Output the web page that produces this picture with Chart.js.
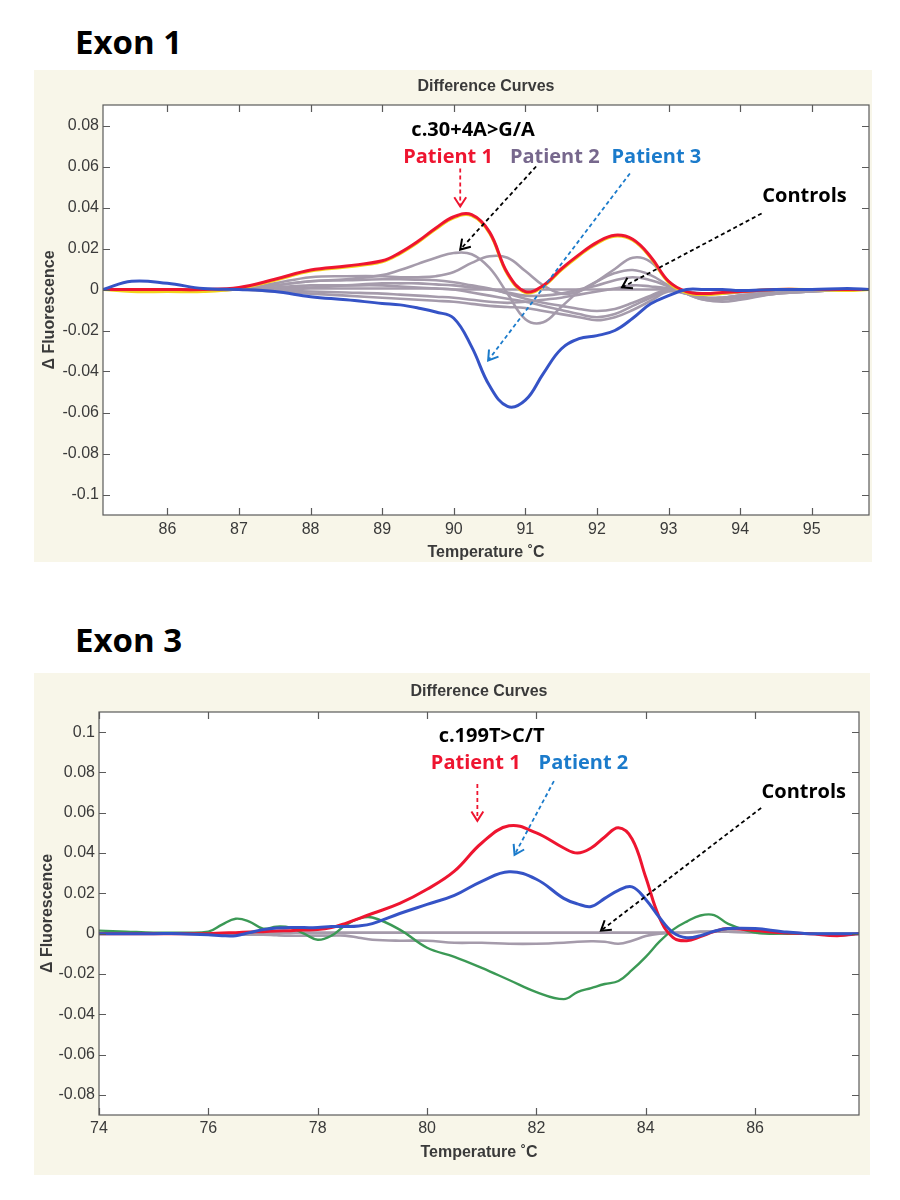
<!DOCTYPE html>
<html><head><meta charset="utf-8">
<script src="https://cdn.jsdelivr.net/npm/chart.js@4.4.1/dist/chart.umd.min.js"></script>
<style>
html,body{margin:0;padding:0;background:#fff;width:900px;height:1200px;overflow:hidden;position:relative}
.hdr{position:absolute;left:75px;font-family:"Open Sans",sans-serif;font-weight:700;font-size:33px;line-height:33px;color:#000;white-space:nowrap}
.panel{position:absolute;background:#f8f6e9}
canvas{display:block;position:absolute}
</style></head>
<body>
<div class="hdr" style="top:25px">Exon 1</div>
<div class="hdr" style="top:623px">Exon 3</div>
<div class="panel" style="left:34px;top:70px;width:838px;height:492px"><canvas id="c1" width="838" height="492"></canvas></div>
<div class="panel" style="left:34px;top:673px;width:836px;height:502px"><canvas id="c2" width="836" height="502"></canvas></div>
<script>
// ---------- Exon 1 data ----------
const exon1Temps = [85.1, 85.5, 86, 86.5, 87, 87.5, 88, 88.5, 89, 89.25, 89.5, 89.75, 90, 90.25, 90.5, 90.75, 91, 91.25, 91.5, 91.75, 92, 92.25, 92.5, 92.75, 93, 93.25, 93.5, 93.75, 94, 94.5, 95, 95.5, 95.8];
const exon1Patient1 = [0, 0, 0, 0, 0.001, 0.005, 0.0095, 0.0115, 0.014, 0.018, 0.0235, 0.030, 0.0355, 0.0365, 0.028, 0.008, -0.001, 0.002, 0.010, 0.017, 0.023, 0.0265, 0.0245, 0.016, 0.004, -0.001, -0.002, -0.0015, -0.001, 0, 0, 0, 0];
const exon1Patient1Rep = [0, -0.001, -0.001, -0.001, 0.0005, 0.0045, 0.009, 0.011, 0.0135, 0.0175, 0.023, 0.0295, 0.035, 0.036, 0.0275, 0.0075, -0.0015, 0.0015, 0.0095, 0.0165, 0.0225, 0.026, 0.024, 0.0155, 0.0035, -0.0015, -0.0025, -0.002, -0.001, 0, 0, -0.0005, 0];
const exon1Patient3 = [0, 0.004, 0.003, 0.0005, 0, -0.001, -0.0035, -0.005, -0.0068, -0.0075, -0.009, -0.011, -0.014, -0.028, -0.047, -0.057, -0.054, -0.041, -0.029, -0.024, -0.0225, -0.020, -0.014, -0.007, -0.003, 0, 0, 0, -0.0005, 0, 0, 0.0005, 0];
const exon1Patient2 = [0, 0, 0, 0, 0, 0.002, 0.004, 0.005, 0.007, 0.0095, 0.0125, 0.0155, 0.0178, 0.0172, 0.0105, -0.002, -0.0145, -0.016, -0.0085, -0.001, 0.004, 0.008, 0.0095, 0.007, 0.002, -0.002, -0.005, -0.005, -0.004, -0.002, -0.001, 0, 0];
const exon1Control1 = [0, 0, 0, 0, 0, 0.003, 0.006, 0.0065, 0.0065, 0.006, 0.006, 0.0065, 0.0085, 0.013, 0.0162, 0.0155, 0.009, 0.002, -0.002, -0.001, 0.004, 0.010, 0.0155, 0.0135, 0.004, -0.002, -0.005, -0.006, -0.005, -0.002, -0.001, 0, 0];
const exon1Control2 = [0, 0, 0, 0, 0, 0.002, 0.004, 0.0045, 0.005, 0.005, 0.0048, 0.0045, 0.0035, 0.002, 0.0005, -0.002, -0.0045, -0.0065, -0.008, -0.0095, -0.0105, -0.0095, -0.0065, -0.003, 0, -0.002, -0.004, -0.0045, -0.004, -0.002, -0.001, 0, 0];
const exon1Control3 = [0, 0, 0, 0, 0, 0.001, 0.002, 0.002, 0.002, 0.0015, 0.001, 0.0005, 0, -0.0015, -0.003, -0.0045, -0.006, -0.008, -0.010, -0.012, -0.0135, -0.012, -0.008, -0.004, -0.0005, -0.002, -0.004, -0.004, -0.003, -0.0015, -0.0005, 0, 0];
const exon1Control4 = [0, 0, 0, 0, 0, -0.001, -0.002, -0.003, -0.004, -0.0045, -0.005, -0.0055, -0.006, -0.007, -0.008, -0.0085, -0.009, -0.0105, -0.012, -0.0135, -0.015, -0.0135, -0.010, -0.0055, -0.001, -0.002, -0.004, -0.0045, -0.0035, -0.0015, -0.0005, 0, 0];
const exon1Control5 = [0, 0, 0, 0, 0, 0, 0.0005, 0.0005, 0.0005, 0.0005, 0.0005, 0.0005, 0, 0, 0, 0, 0, 0, 0, 0, 0, 0, 0, 0, 0, -0.001, -0.002, -0.002, -0.0015, -0.0005, 0, 0, 0];
const exon1Control6 = [0, 0, 0, 0, 0, 0.0005, 0.001, 0.002, 0.003, 0.003, 0.003, 0.0025, 0.002, 0.001, 0, -0.0015, -0.003, -0.003, -0.002, 0, 0.002, 0.0045, 0.006, 0.0045, 0.0015, -0.002, -0.004, -0.004, -0.003, -0.0015, -0.0005, 0, 0];
const exon1Control7 = [0, 0, 0, 0, 0, -0.0005, -0.001, -0.0015, -0.002, -0.0025, -0.003, -0.0035, -0.004, -0.005, -0.006, -0.0065, -0.006, -0.005, -0.004, -0.0025, -0.001, 0.0005, 0.002, 0.0015, 0.0005, -0.002, -0.004, -0.004, -0.003, -0.001, 0, 0, 0];
const exon1XTicks = [86, 87, 88, 89, 90, 91, 92, 93, 94, 95];
const exon1YTicks = [-0.1, -0.08, -0.06, -0.04, -0.02, 0, 0.02, 0.04, 0.06, 0.08];

// ---------- Exon 3 data ----------
const exon3Temps = [74, 74.5, 75, 75.5, 76, 76.25, 76.5, 76.75, 77, 77.25, 77.5, 77.75, 78, 78.25, 78.5, 78.75, 79, 79.5, 80, 80.5, 81, 81.5, 82, 82.5, 82.75, 83, 83.25, 83.5, 83.75, 84, 84.25, 84.5, 84.75, 85, 85.25, 85.5, 86, 86.5, 87, 87.5, 87.9];
const exon3Patient1 = [0, 0, 0, 0, 0, 0.0003, 0.0005, 0.0008, 0.001, 0.0013, 0.0015, 0.0018, 0.002, 0.003, 0.005, 0.0075, 0.010, 0.015, 0.022, 0.031, 0.045, 0.0535, 0.050, 0.0425, 0.040, 0.0425, 0.048, 0.0525, 0.047, 0.028, 0.008, -0.002, -0.0035, -0.0015, 0.001, 0.0025, 0.0015, 0.0005, 0, -0.001, 0];
const exon3Patient2 = [0, 0, 0, 0, -0.0005, -0.001, -0.001, 0.0005, 0.002, 0.0028, 0.003, 0.003, 0.003, 0.0035, 0.0035, 0.0038, 0.005, 0.010, 0.0145, 0.019, 0.026, 0.0307, 0.027, 0.0175, 0.0148, 0.0135, 0.0175, 0.0215, 0.0232, 0.017, 0.008, 0.0005, -0.002, -0.001, 0.0012, 0.0025, 0.0025, 0.001, 0, 0, 0];
const exon3Green = [0.0015, 0.001, 0.0005, 0.0005, 0.001, 0.0045, 0.0074, 0.006, 0.0025, 0.0035, 0.003, 0, -0.003, -0.001, 0.004, 0.0075, 0.008, 0.002, -0.007, -0.0115, -0.017, -0.023, -0.029, -0.0325, -0.029, -0.027, -0.025, -0.0235, -0.018, -0.0115, -0.004, 0.002, 0.006, 0.009, 0.0092, 0.005, 0.0005, 0, 0, -0.001, 0];
const exon3Control1 = [0, 0, 0, 0, 0, 0, 0, 0.0003, 0.0005, 0.0005, 0.0005, 0.0005, 0.0005, 0.0005, 0.0005, 0.0005, 0.0005, 0.0005, 0.0005, 0.0005, 0.0005, 0.0005, 0.0005, 0.0005, 0.0005, 0.0005, 0.0005, 0.0005, 0.0005, 0.0005, 0.0005, 0.0005, 0.0005, 0.0008, 0.001, 0.001, 0.0005, 0, 0, 0, 0];
const exon3Control2 = [0, 0, 0, 0, 0, 0, -0.0005, -0.0005, -0.0005, -0.0008, -0.001, -0.001, -0.001, -0.001, -0.001, -0.002, -0.003, -0.0035, -0.0035, -0.0045, -0.0045, -0.005, -0.005, -0.0045, -0.004, -0.0038, -0.004, -0.005, -0.0035, -0.0012, 0, 0.0003, 0.0005, 0.001, 0.001, 0.001, 0.0005, 0, 0, 0, 0];
const exon3XTicks = [74, 76, 78, 80, 82, 84, 86];
const exon3YTicks = [-0.08, -0.06, -0.04, -0.02, 0, 0.02, 0.04, 0.06, 0.08, 0.1];

// ---------- styles ----------
const RED = '#ee1530', BLUE = '#3553c6', GREY = '#a59bab', YELLOW = '#f2d21a', GREEN = '#3b9955';
const LBL_BLUE = '#1b7bcb', LBL_PURPLE = '#77688d';

function pts(xs, ys) { return xs.map((x, i) => ({x: x, y: ys[i]})); }
function ds(label, xs, ys, color, w) {
  return {label: label, data: pts(xs, ys), borderColor: color, borderWidth: w,
          pointRadius: 0, fill: false, tension: 0.4, borderJoinStyle: 'round', borderCapStyle: 'round'};
}
function fmt(v) { return String(+Number(v).toFixed(2)); }

const frame = {
  id: 'frame',
  beforeDatasetsDraw(chart) {
    const a = chart.chartArea, ctx = chart.ctx;
    ctx.save(); ctx.fillStyle = '#ffffff';
    ctx.fillRect(a.left, a.top, a.right - a.left, a.bottom - a.top);
    ctx.restore();
  },
  afterDraw(chart) {
    const a = chart.chartArea, ctx = chart.ctx, xs = chart.scales.x, ys = chart.scales.y;
    ctx.save();
    ctx.strokeStyle = '#5a5a5a'; ctx.lineWidth = 1.2;
    ctx.strokeRect(a.left, a.top, a.right - a.left, a.bottom - a.top);
    ctx.beginPath();
    xs.ticks.forEach(t => {
      const p = Math.round(xs.getPixelForValue(t.value)) + 0.5;
      ctx.moveTo(p, a.bottom); ctx.lineTo(p, a.bottom - 7);
      ctx.moveTo(p, a.top); ctx.lineTo(p, a.top + 7);
    });
    ys.ticks.forEach(t => {
      const p = Math.round(ys.getPixelForValue(t.value)) + 0.5;
      ctx.moveTo(a.left, p); ctx.lineTo(a.left + 7, p);
      ctx.moveTo(a.right, p); ctx.lineTo(a.right - 7, p);
    });
    ctx.stroke();
    ctx.restore();
  }
};

const notes = {
  id: 'notes',
  afterDatasetsDraw(chart, args, opts) {
    const ctx = chart.ctx, X = chart.scales.x, Y = chart.scales.y;
    ctx.save();
    (opts.arrows || []).forEach(a => {
      const x1 = X.getPixelForValue(a.from[0]), y1 = Y.getPixelForValue(a.from[1]);
      const x2 = X.getPixelForValue(a.to[0]), y2 = Y.getPixelForValue(a.to[1]);
      ctx.strokeStyle = a.color; ctx.lineWidth = 1.8; ctx.setLineDash([4, 3]);
      ctx.beginPath(); ctx.moveTo(x1, y1); ctx.lineTo(x2, y2); ctx.stroke();
      const ang = Math.atan2(y2 - y1, x2 - x1), L = 11, w = Math.PI / 5.5;
      ctx.setLineDash([]); ctx.lineWidth = 2;
      ctx.beginPath();
      ctx.moveTo(x2 - L * Math.cos(ang - w), y2 - L * Math.sin(ang - w));
      ctx.lineTo(x2, y2);
      ctx.lineTo(x2 - L * Math.cos(ang + w), y2 - L * Math.sin(ang + w));
      ctx.stroke();
    });
    ctx.font = 'bold 20px "Open Sans"';
    ctx.textAlign = 'center'; ctx.textBaseline = 'middle';
    (opts.texts || []).forEach(t => {
      ctx.fillStyle = t.color;
      ctx.fillText(t.text, X.getPixelForValue(t.at[0]), Y.getPixelForValue(t.at[1]));
    });
    ctx.restore();
  }
};

const tickFont = {family: '"Liberation Sans", Arial, sans-serif', size: 16};
const titleFont = {family: '"Liberation Sans", Arial, sans-serif', size: 16, weight: 'bold'};
const INK = '#3a3a3a';

function makeChart(id, cfg) {
  return new Chart(document.getElementById(id), {
    type: 'line',
    data: {datasets: cfg.datasets},
    options: {
      responsive: false, animation: false, devicePixelRatio: 1,
      layout: {padding: {top: 0, left: 0, right: cfg.padRight, bottom: 0}},
      plugins: {
        legend: {display: false}, tooltip: {enabled: false},
        title: {display: true, text: 'Difference Curves', fullSize: false, color: INK,
                font: titleFont, padding: cfg.titlePad},
        notes: {arrows: cfg.arrows, texts: cfg.texts}
      },
      scales: {
        x: {type: 'linear', min: cfg.xmin, max: cfg.xmax,
            afterBuildTicks: s => { s.ticks = cfg.xticks.map(v => ({value: v})); },
            afterFit: s => { s.height = cfg.xHeight; },
            grid: {display: false, drawTicks: false}, border: {display: false},
            ticks: {padding: cfg.xTickPad, color: INK, font: tickFont, maxRotation: 0, autoSkip: false,
                    callback: v => fmt(v)},
            title: {display: true, text: 'Temperature \u02DAC', color: INK, font: titleFont,
                    padding: {top: 0, bottom: cfg.xTitlePadBottom}}},
        y: {type: 'linear', min: cfg.ymin, max: cfg.ymax,
            afterBuildTicks: s => { s.ticks = cfg.yticks.map(v => ({value: v})); },
            afterFit: s => { s.width = cfg.yWidth; },
            grid: {display: false, drawTicks: false}, border: {display: false},
            ticks: {padding: 4, color: INK, font: tickFont, autoSkip: false, callback: v => fmt(v)},
            title: {display: true, text: '\u0394 Fluorescence', color: INK, font: titleFont,
                    padding: {top: cfg.yTitlePadTop, bottom: 0}}}
      }
    },
    plugins: [frame, notes]
  });
}

// ---------- Exon 1 chart ----------
makeChart('c1', {
  datasets: [
    ds('Patient 3', exon1Temps, exon1Patient3, BLUE, 3),
    ds('Patient 1', exon1Temps, exon1Patient1, RED, 3),
    ds('Patient 1 (replicate)', exon1Temps, exon1Patient1Rep, YELLOW, 3),
    ds('Patient 2', exon1Temps, exon1Patient2, GREY, 2.6),
    ds('Control 1', exon1Temps, exon1Control1, GREY, 2.6),
    ds('Control 2', exon1Temps, exon1Control2, GREY, 2.6),
    ds('Control 3', exon1Temps, exon1Control3, GREY, 2.6),
    ds('Control 4', exon1Temps, exon1Control4, GREY, 2.6),
    ds('Control 5', exon1Temps, exon1Control5, GREY, 2.6),
    ds('Control 6', exon1Temps, exon1Control6, GREY, 2.6),
    ds('Control 7', exon1Temps, exon1Control7, GREY, 2.6)
  ],
  xmin: 85.1, xmax: 95.8, ymin: -0.11, ymax: 0.09,
  xticks: exon1XTicks, yticks: exon1YTicks,
  padRight: 3, titlePad: {top: 7.4, bottom: 8.4},
  xHeight: 47, xTickPad: 5, xTitlePadBottom: 0, yWidth: 69, yTitlePadTop: 6.4,
  texts: [
    {text: 'c.30+4A>G/A', at: [90.27, 0.0776], color: '#000000'},
    {text: 'Patient 1', at: [89.92, 0.0644], color: RED},
    {text: 'Patient 2', at: [91.41, 0.0644], color: LBL_PURPLE},
    {text: 'Patient 3', at: [92.83, 0.0644], color: LBL_BLUE},
    {text: 'Controls', at: [94.9, 0.0454], color: '#000000'}
  ],
  arrows: [
    {from: [90.09, 0.059], to: [90.09, 0.0405], color: RED},
    {from: [91.15, 0.060], to: [90.09, 0.0195], color: '#000000'},
    {from: [92.46, 0.0566], to: [90.48, -0.0346], color: LBL_BLUE},
    {from: [94.30, 0.0371], to: [92.35, 0.001], color: '#000000'}
  ]
});

// ---------- Exon 3 chart ----------
makeChart('c2', {
  datasets: [
    ds('Patient 2', exon3Temps, exon3Patient2, BLUE, 3),
    ds('Patient 1', exon3Temps, exon3Patient1, RED, 3),
    ds('Sample', exon3Temps, exon3Green, GREEN, 2.4),
    ds('Control 1', exon3Temps, exon3Control1, GREY, 2.6),
    ds('Control 2', exon3Temps, exon3Control2, GREY, 2.6)
  ],
  xmin: 74, xmax: 87.9, ymin: -0.09, ymax: 0.11,
  xticks: exon3XTicks, yticks: exon3YTicks,
  padRight: 11, titlePad: {top: 9.4, bottom: 10.4},
  xHeight: 60, xTickPad: 4, xTitlePadBottom: 12.4, yWidth: 65, yTitlePadTop: 4.4,
  texts: [
    {text: 'c.199T>C/T', at: [81.18, 0.098], color: '#000000'},
    {text: 'Patient 1', at: [80.89, 0.0847], color: RED},
    {text: 'Patient 2', at: [82.86, 0.0847], color: LBL_BLUE},
    {text: 'Controls', at: [86.89, 0.0703], color: '#000000'}
  ],
  arrows: [
    {from: [80.92, 0.0743], to: [80.92, 0.056], color: RED},
    {from: [82.32, 0.0757], to: [81.60, 0.0391], color: LBL_BLUE},
    {from: [86.11, 0.0624], to: [83.18, 0.0015], color: '#000000'}
  ]
});
</script>
</body></html>
